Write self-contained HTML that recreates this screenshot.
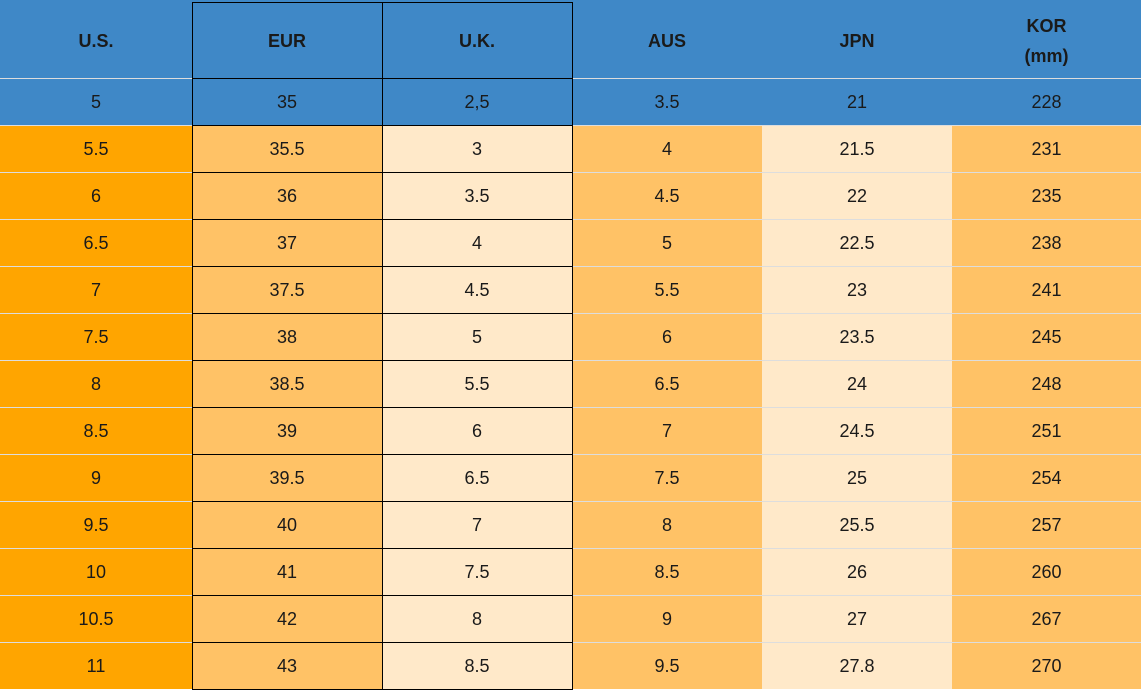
<!DOCTYPE html>
<html><head><meta charset="utf-8"><style>
body{margin:0;width:1141px;height:692px;background:#fff;position:relative;overflow:hidden;font-family:"Liberation Sans",Arial,sans-serif;}
.g{position:absolute;left:0;top:0;display:grid;grid-template-columns:192px 190px 190px 190px 190px 189px;grid-template-rows:78px repeat(13,47px);}
.g div{display:flex;align-items:center;justify-content:center;font-size:18px;color:#1a1a1a;text-align:center;line-height:30px}
.h{background:#3f88c7;font-weight:bold;font-size:18px!important;padding-top:3px;box-sizing:border-box}
.b{background:#3f88c7}
.o{background:#ffa500}.m{background:#ffc266}.l{background:#ffe9c9}
.hl{position:absolute;height:1px;}
.vl{position:absolute;width:1px;background:#000;top:2px;height:688px}
</style></head><body>
<div class="g">
<div class="h">U.S.</div><div class="h">EUR</div><div class="h">U.K.</div><div class="h">AUS</div><div class="h">JPN</div><div class="h">KOR<br>(mm)</div>
<div class="b">5</div><div class="b">35</div><div class="b">2,5</div><div class="b">3.5</div><div class="b">21</div><div class="b">228</div>
<div class="o">5.5</div><div class="m">35.5</div><div class="l">3</div><div class="m">4</div><div class="l">21.5</div><div class="m">231</div>
<div class="o">6</div><div class="m">36</div><div class="l">3.5</div><div class="m">4.5</div><div class="l">22</div><div class="m">235</div>
<div class="o">6.5</div><div class="m">37</div><div class="l">4</div><div class="m">5</div><div class="l">22.5</div><div class="m">238</div>
<div class="o">7</div><div class="m">37.5</div><div class="l">4.5</div><div class="m">5.5</div><div class="l">23</div><div class="m">241</div>
<div class="o">7.5</div><div class="m">38</div><div class="l">5</div><div class="m">6</div><div class="l">23.5</div><div class="m">245</div>
<div class="o">8</div><div class="m">38.5</div><div class="l">5.5</div><div class="m">6.5</div><div class="l">24</div><div class="m">248</div>
<div class="o">8.5</div><div class="m">39</div><div class="l">6</div><div class="m">7</div><div class="l">24.5</div><div class="m">251</div>
<div class="o">9</div><div class="m">39.5</div><div class="l">6.5</div><div class="m">7.5</div><div class="l">25</div><div class="m">254</div>
<div class="o">9.5</div><div class="m">40</div><div class="l">7</div><div class="m">8</div><div class="l">25.5</div><div class="m">257</div>
<div class="o">10</div><div class="m">41</div><div class="l">7.5</div><div class="m">8.5</div><div class="l">26</div><div class="m">260</div>
<div class="o">10.5</div><div class="m">42</div><div class="l">8</div><div class="m">9</div><div class="l">27</div><div class="m">267</div>
<div class="o">11</div><div class="m">43</div><div class="l">8.5</div><div class="m">9.5</div><div class="l">27.8</div><div class="m">270</div>
</div>
<div style="position:absolute;left:0;top:689px;width:1141px;height:3px;background:#fff"></div>
<div class="hl" style="left:0;width:1141px;top:78px;background:#ddd"></div>
<div class="hl" style="left:0;width:1141px;top:125px;background:#ddd"></div>
<div class="hl" style="left:0;width:1141px;top:172px;background:#ddd"></div>
<div class="hl" style="left:0;width:1141px;top:219px;background:#ddd"></div>
<div class="hl" style="left:0;width:1141px;top:266px;background:#ddd"></div>
<div class="hl" style="left:0;width:1141px;top:313px;background:#ddd"></div>
<div class="hl" style="left:0;width:1141px;top:360px;background:#ddd"></div>
<div class="hl" style="left:0;width:1141px;top:407px;background:#ddd"></div>
<div class="hl" style="left:0;width:1141px;top:454px;background:#ddd"></div>
<div class="hl" style="left:0;width:1141px;top:501px;background:#ddd"></div>
<div class="hl" style="left:0;width:1141px;top:548px;background:#ddd"></div>
<div class="hl" style="left:0;width:1141px;top:595px;background:#ddd"></div>
<div class="hl" style="left:0;width:1141px;top:642px;background:#ddd"></div>
<div class="hl" style="left:192px;width:381px;top:2px;background:#000"></div>
<div class="hl" style="left:192px;width:381px;top:78px;background:#000"></div>
<div class="hl" style="left:192px;width:381px;top:125px;background:#000"></div>
<div class="hl" style="left:192px;width:381px;top:172px;background:#000"></div>
<div class="hl" style="left:192px;width:381px;top:219px;background:#000"></div>
<div class="hl" style="left:192px;width:381px;top:266px;background:#000"></div>
<div class="hl" style="left:192px;width:381px;top:313px;background:#000"></div>
<div class="hl" style="left:192px;width:381px;top:360px;background:#000"></div>
<div class="hl" style="left:192px;width:381px;top:407px;background:#000"></div>
<div class="hl" style="left:192px;width:381px;top:454px;background:#000"></div>
<div class="hl" style="left:192px;width:381px;top:501px;background:#000"></div>
<div class="hl" style="left:192px;width:381px;top:548px;background:#000"></div>
<div class="hl" style="left:192px;width:381px;top:595px;background:#000"></div>
<div class="hl" style="left:192px;width:381px;top:642px;background:#000"></div>
<div class="hl" style="left:192px;width:381px;top:689px;background:#000"></div>
<div class="vl" style="left:192px"></div>
<div class="vl" style="left:382px"></div>
<div class="vl" style="left:572px"></div>
</body></html>
